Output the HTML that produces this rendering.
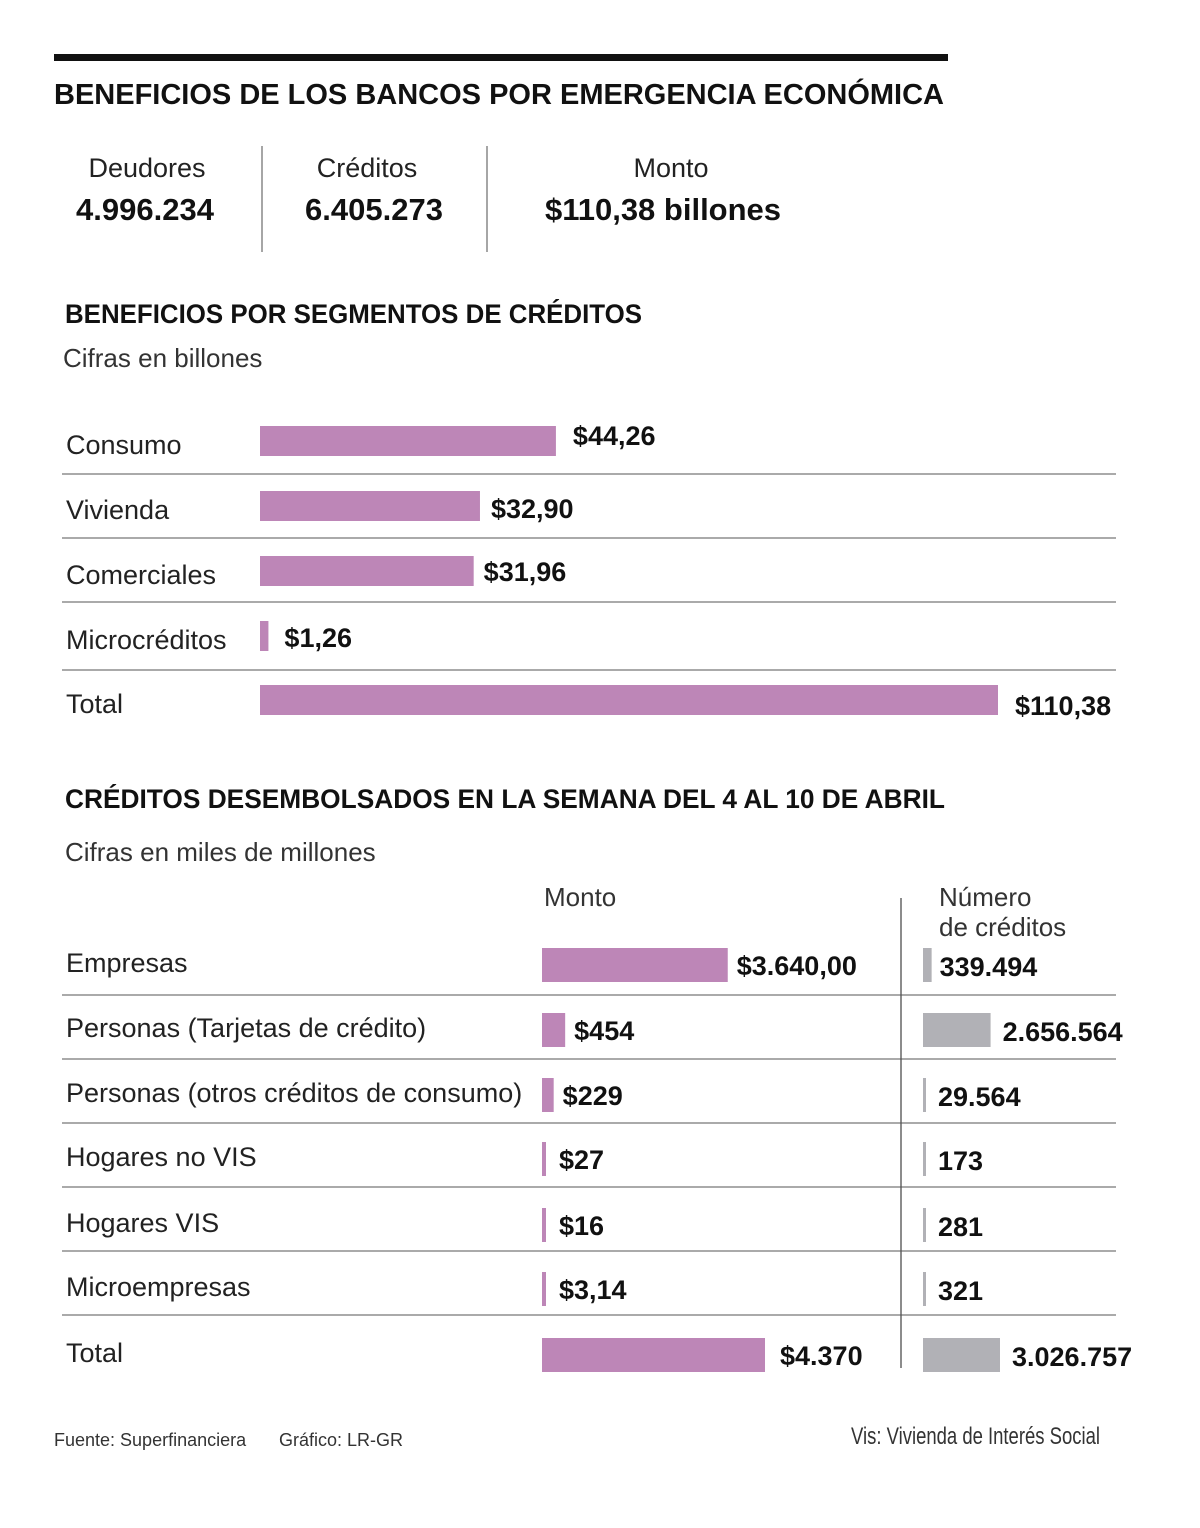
<!DOCTYPE html>
<html><head><meta charset="utf-8"><style>
html,body{margin:0;padding:0;background:#fff;}
svg{display:block;font-family:"Liberation Sans",sans-serif;}
</style></head><body>
<svg id="chart" width="1200" height="1528" viewBox="0 0 1200 1528">
<rect x="54" y="54" width="894" height="7" fill="#111"/>
<text x="54" y="104" font-size="29" font-weight="bold" fill="#111" textLength="890" lengthAdjust="spacingAndGlyphs">BENEFICIOS DE LOS BANCOS POR EMERGENCIA ECONÓMICA</text>

<g>
<text x="147" y="177" font-size="27" fill="#222" text-anchor="middle">Deudores</text>
<text x="145" y="220" font-size="31" font-weight="bold" fill="#111" text-anchor="middle">4.996.234</text>
<line x1="262" y1="146" x2="262" y2="252" stroke="#888" stroke-width="1.5"/>
<text x="367" y="177" font-size="27" fill="#222" text-anchor="middle">Créditos</text>
<text x="374" y="220" font-size="31" font-weight="bold" fill="#111" text-anchor="middle">6.405.273</text>
<line x1="487" y1="146" x2="487" y2="252" stroke="#888" stroke-width="1.5"/>
<text x="671" y="177" font-size="27" fill="#222" text-anchor="middle">Monto</text>
<text x="663" y="220" font-size="31" font-weight="bold" fill="#111" text-anchor="middle">$110,38 billones</text>
</g>

<text x="65" y="323" font-size="27" font-weight="bold" fill="#111" textLength="577" lengthAdjust="spacingAndGlyphs">BENEFICIOS POR SEGMENTOS DE CRÉDITOS</text>
<text x="63" y="367" font-size="26" fill="#333">Cifras en billones</text>
<g id="chart1"></g>

<text x="65" y="808" font-size="27" font-weight="bold" fill="#111" textLength="880" lengthAdjust="spacingAndGlyphs">CRÉDITOS DESEMBOLSADOS EN LA SEMANA DEL 4 AL 10 DE ABRIL</text>
<text x="65" y="861" font-size="26" fill="#333">Cifras en miles de millones</text>
<text x="544" y="906" font-size="26" fill="#333">Monto</text>
<text x="939" y="906" font-size="26" fill="#333">Número</text>
<text x="939" y="936" font-size="26" fill="#333">de créditos</text>
<line x1="901" y1="898" x2="901" y2="1368" stroke="#666" stroke-width="1.5"/>
<g id="chart2"></g>

<text x="54" y="1446" font-size="18" fill="#333">Fuente: Superfinanciera</text>
<text x="279" y="1446" font-size="18" fill="#333">Gráfico: LR-GR</text>
<text x="851" y="1444" font-size="24" fill="#333" textLength="249" lengthAdjust="spacingAndGlyphs">Vis: Vivienda de Interés Social</text>
</svg>
<script>
const segCategories=["Consumo","Vivienda","Comerciales","Microcréditos","Total"];
const segValues=[44.26,32.90,31.96,1.26,110.38];
const segLabels=["$44,26","$32,90","$31,96","$1,26","$110,38"];

const wkCategories=["Empresas","Personas (Tarjetas de crédito)","Personas (otros créditos de consumo)","Hogares no VIS","Hogares VIS","Microempresas","Total"];
const wkMonto=[3640,454,229,27,16,3.14,4370];
const wkMontoLabels=["$3.640,00","$454","$229","$27","$16","$3,14","$4.370"];
const wkNumero=[339494,2656564,29564,173,281,321,3026757];
const wkNumeroLabels=["339.494","2.656.564","29.564","173","281","321","3.026.757"];

const NS="http://www.w3.org/2000/svg";
function mk(tag,attrs,parent,txt){const e=document.createElementNS(NS,tag);for(const k in attrs)e.setAttribute(k,attrs[k]);if(txt!==undefined)e.textContent=txt;parent.appendChild(e);return e;}
const PINK="#bd86b7",GRAY="#b1b1b6";

// chart 1
const c1=document.getElementById('chart1');
const x1=v=>Math.max(8,v*(738/110.38));
const rowTop1=[426,491,556,621,685];
const dy1=[19,27,25,26,30];
const dx1=[17,11,10,16,17];
segCategories.forEach((c,i)=>{
  const y=rowTop1[i];
  const t=mk('text',{x:66,y:y+28,'font-size':27,fill:'#222'},c1,c);
  
  
  const w=x1(segValues[i]);
  const r=mk('rect',{x:260,y:y,width:w,height:30,fill:PINK},c1);
  
  
  const v=mk('text',{x:260+w+dx1[i],y:y+dy1[i],'font-size':27,'font-weight':'bold',fill:'#111'},c1,segLabels[i]);
  
  
  if(i<4){
    const yy=[474,538,602,670][i];
    const l=mk('line',{x1:62,x2:1116,y1:yy,y2:yy,stroke:'#555','stroke-width':1},c1);
    
    
  }
});

// chart 2
const c2=document.getElementById('chart2');
const xm=v=>Math.max(4,v*(223/4370));
const xn=v=>Math.max(3,v*(77/3026757));
const rowTop2=[948,1013,1078,1142,1208,1272,1338];
const seps=[995,1059,1123,1187,1251,1315];
wkCategories.forEach((c,i)=>{
  const y=rowTop2[i];
  const t=mk('text',{x:66,y:y+24,'font-size':27,fill:'#222'},c2,c);
  
  
  const w=xm(wkMonto[i]);
  const r=mk('rect',{x:542,y:y,width:w,height:34,fill:PINK},c2);
  
  
  const v=mk('text',{x:542+w+(w<10?13:(i===6?15:9)),y:y+27,'font-size':27,'font-weight':'bold',fill:'#111'},c2,wkMontoLabels[i]);
  
  
  const wn=xn(wkNumero[i]);
  const r2=mk('rect',{x:923,y:y,width:wn,height:34,fill:GRAY},c2);
  
  
  const v2=mk('text',{x:923+wn+(i===0?8:12),y:y+28,'font-size':27,'font-weight':'bold',fill:'#111'},c2,wkNumeroLabels[i]);
  
  
  if(i<6){
    const l=mk('line',{x1:62,x2:1116,y1:seps[i],y2:seps[i],stroke:'#555','stroke-width':1},c2);
    
    
  }
});
</script>
</body></html>
